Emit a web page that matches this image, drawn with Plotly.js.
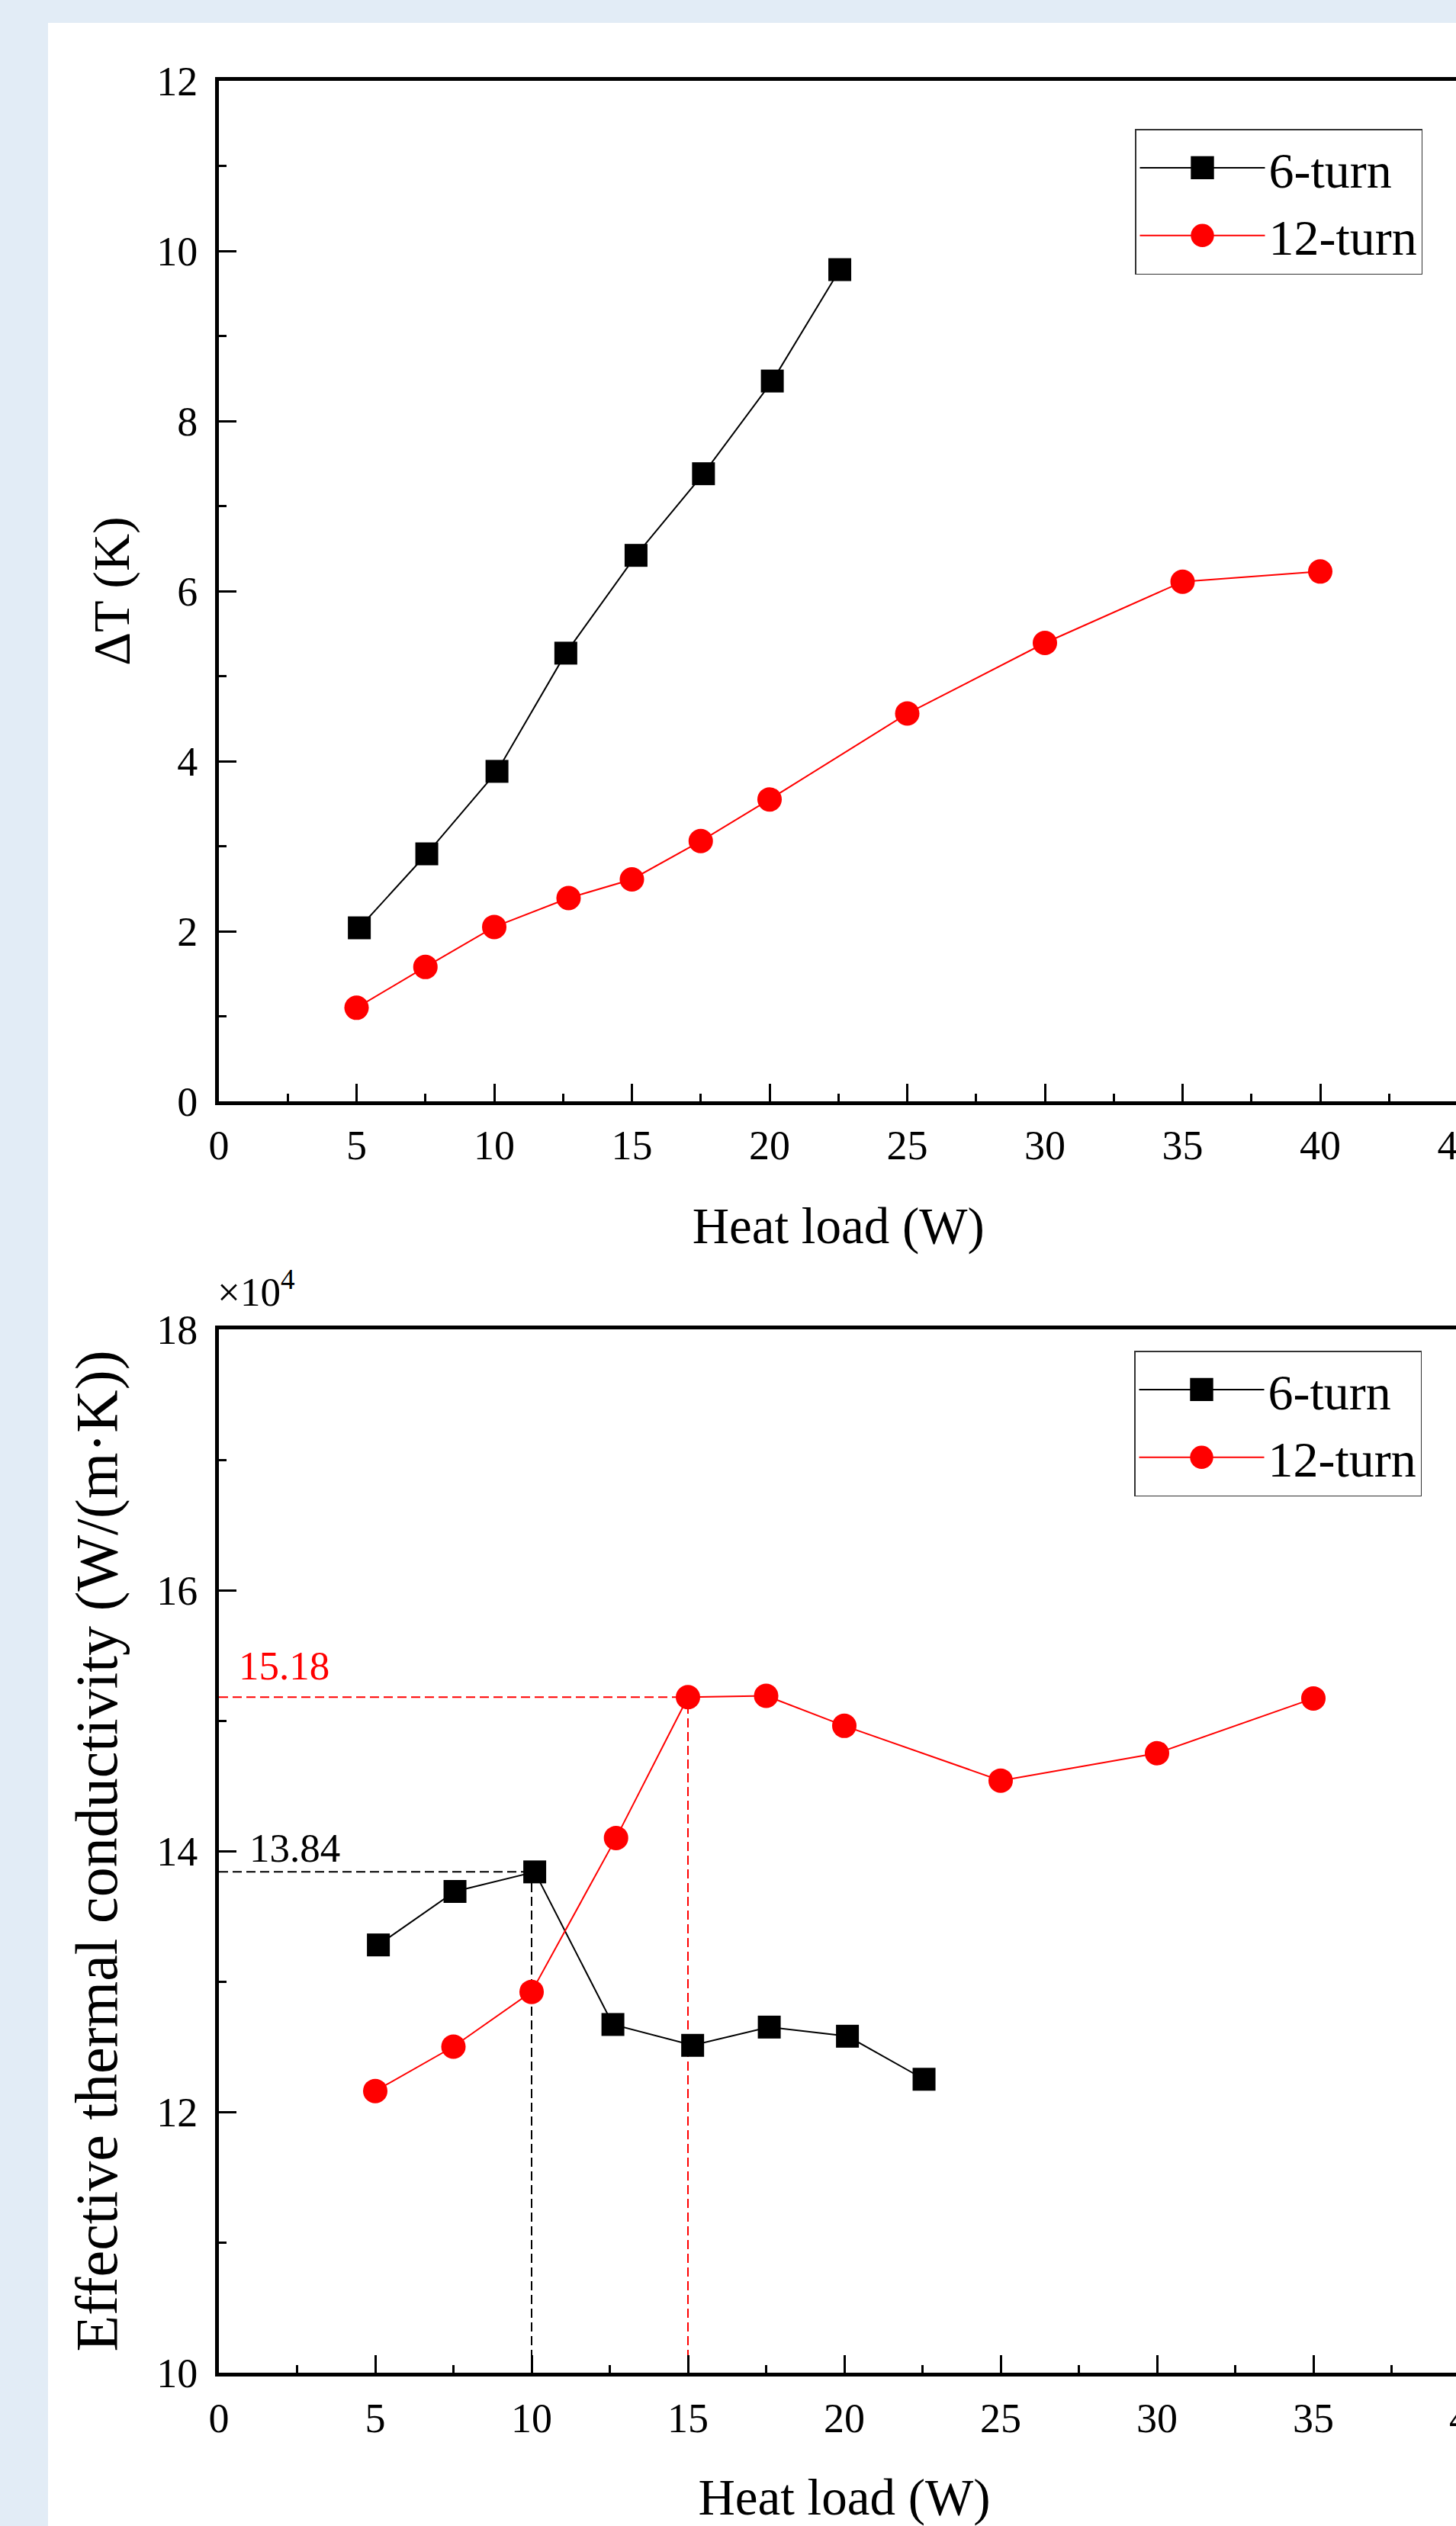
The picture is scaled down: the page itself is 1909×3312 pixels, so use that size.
<!DOCTYPE html>
<html>
<head>
<meta charset="utf-8">
<script src="https://cdn.plot.ly/plotly-3.0.1.min.js"></script>
<style>
  html, body { margin: 0; padding: 0; }
  body { width: 1909px; height: 3312px; overflow: hidden; background: #e2ecf6; position: relative; }
  #chart { position: absolute; left: 63px; top: 30px; width: 2000px; height: 3282px; background: #ffffff; }
</style>
</head>
<body>
<div id="chart"></div>
<script>
// ---- data ----
const heatLoad6 = [5.1, 7.55, 10.1, 12.6, 15.15, 17.6, 20.1, 22.55];
const deltaT6 = [2.04, 2.91, 3.88, 5.27, 6.42, 7.38, 8.47, 9.78];
const heatLoad12 = [5, 7.5, 10, 12.7, 15, 17.5, 20, 25, 30, 35, 40];
const deltaT12 = [1.10, 1.58, 2.05, 2.39, 2.61, 3.06, 3.55, 4.56, 5.39, 6.11, 6.23];

// effective thermal conductivity, in units of 1e4 W/(m·K)
const heatLoad6k = [5.1, 7.55, 10.1, 12.6, 15.15, 17.6, 20.1, 22.55];
const keff6 = [13.28, 13.69, 13.84, 12.67, 12.51, 12.65, 12.58, 12.25];
const heatLoad12k = [5, 7.5, 10, 12.7, 15, 17.5, 20, 25, 30, 35];
const keff12 = [12.16, 12.50, 12.92, 14.10, 15.18, 15.19, 14.96, 14.54, 14.75, 15.17];

const peakLoads = [10, 15];
const peakValues = [13.84, 15.18];
const peakLabels = ['13.84', '15.18'];
const seriesNames = ['6-turn', '12-turn'];
const xTitle = 'Heat load (W)';
const yTitleTop = 'ΔT (K)';
const yTitleBottom = 'Effective thermal conductivity (W/(m·K))';
const scaleLabel = '×10<sup>4</sup>';

// ---- styling ----
const FONT = 'Liberation Serif, Times New Roman, serif';
const colors = ['#000000', '#ff0000'];
const symbols = ['square', 'circle'];
const msize = [30, 32];

function tr(x, y, i, xa, ya, leg) {
  return {
    x: x, y: y, type: 'scatter', mode: 'lines+markers', name: seriesNames[i],
    xaxis: xa, yaxis: ya, legend: leg,
    line: { color: colors[i], width: 2 },
    marker: { symbol: symbols[i], size: msize[i], color: colors[i], line: { width: 0 } }
  };
}

const data = [
  tr(heatLoad6, deltaT6, 0, 'x', 'y', 'legend'),
  tr(heatLoad12, deltaT12, 1, 'x', 'y', 'legend'),
  tr(heatLoad6k, keff6, 0, 'x2', 'y2', 'legend2'),
  tr(heatLoad12k, keff12, 1, 'x2', 'y2', 'legend2')
];

function axisBase(extra) {
  return Object.assign({
    showline: true, linewidth: 5, linecolor: '#000', mirror: true,
    showgrid: false, zeroline: false,
    ticks: 'inside', ticklen: 23, tickwidth: 3, tickcolor: '#000',
    tickfont: { family: FONT, size: 54, color: '#000' },
    fixedrange: true
  }, extra);
}

const W = 2000, H = 3282, ML = 224;
const PW = W - ML;
const minorX = { dtick: 2.5, ticks: 'inside', ticklen: 10, tickwidth: 3, tickcolor: '#000' };
const minorY = { dtick: 1, ticks: 'inside', ticklen: 10, tickwidth: 3, tickcolor: '#000' };

const layout = {
  width: W, height: H,
  margin: { l: ML, r: 0, t: 0, b: 0 },
  paper_bgcolor: '#ffffff', plot_bgcolor: '#ffffff',
  font: { family: FONT, color: '#000' },
  showlegend: true,
  xaxis: axisBase({
    domain: [0, 1624.5 / PW], range: [0, 45], anchor: 'y',
    tick0: 0, dtick: 5, ticklabelstandoff: 6, minor: minorX,
    title: { text: xTitle, font: { family: FONT, size: 67 }, standoff: 54 }
  }),
  yaxis: axisBase({
    domain: [(H - 1414) / H, (H - 76) / H], range: [0, 12], anchor: 'x',
    tick0: 0, dtick: 2, ticklabelstandoff: 12, minor: minorY,
    title: { text: yTitleTop, font: { family: FONT, size: 68 }, standoff: 15 }
  }),
  xaxis2: axisBase({
    domain: [0, 1640 / PW], range: [0, 40], anchor: 'y2',
    tick0: 0, dtick: 5, ticklabelstandoff: 8, minor: minorX,
    title: { text: xTitle, font: { family: FONT, size: 67 }, standoff: 52 }
  }),
  yaxis2: axisBase({
    domain: [(H - 3081) / H, (H - 1713) / H], range: [10, 18], anchor: 'x2',
    tick0: 10, dtick: 2, ticklabelstandoff: 12, minor: minorY,
    title: { text: yTitleBottom, font: { family: FONT, size: 78 }, standoff: 27 }
  }),
  legend: {
    x: (1425 - ML) / PW, y: (H - 139) / H, xanchor: 'left', yanchor: 'top',
    bgcolor: '#ffffff', bordercolor: '#333333', borderwidth: 1.5,
    font: { family: FONT, size: 66, color: '#000' }, itemwidth: 164
  },
  legend2: {
    x: (1424 - ML) / PW, y: (H - 1741) / H, xanchor: 'left', yanchor: 'top',
    bgcolor: '#ffffff', bordercolor: '#333333', borderwidth: 1.5,
    font: { family: FONT, size: 66, color: '#000' }, itemwidth: 164
  },
  shapes: [],
  annotations: []
};

const labelShiftX = [38, 24];
const labelShiftY = [0, 10];
for (let i = 0; i < peakLoads.length; i++) {
  const dashStyle = { color: colors[i], width: 2, dash: '12px,6px' };
  layout.shapes.push({ type: 'line', xref: 'x2', yref: 'y2', x0: 0, x1: peakLoads[i], y0: peakValues[i], y1: peakValues[i], line: dashStyle, layer: 'below' });
  layout.shapes.push({ type: 'line', xref: 'x2', yref: 'y2', x0: peakLoads[i], x1: peakLoads[i], y0: 10, y1: peakValues[i], line: dashStyle, layer: 'below' });
  layout.annotations.push({
    xref: 'x2', yref: 'y2', x: 0, y: peakValues[i], text: peakLabels[i],
    xanchor: 'left', yanchor: 'bottom', showarrow: false,
    xshift: labelShiftX[i], yshift: labelShiftY[i],
    font: { family: FONT, size: 53, color: colors[i] }
  });
}
layout.annotations.push({
  xref: 'x2 domain', yref: 'y2 domain', x: 0, y: 1, text: scaleLabel,
  xanchor: 'left', yanchor: 'bottom', showarrow: false, xshift: -4, yshift: 18,
  font: { family: FONT, size: 53, color: '#000' }
});

Plotly.newPlot('chart', data, layout, { displayModeBar: false, staticPlot: true }).then(function (gd) {
  // enlarge legend symbols to match the plotted marker size
  gd.querySelectorAll('.infolayer .legendpoints path.scatterpts').forEach(function (p) {
    const t = p.getAttribute('transform') || '';
    p.setAttribute('transform', t + ' scale(1.9)');
  });
});
</script>
</body>
</html>
